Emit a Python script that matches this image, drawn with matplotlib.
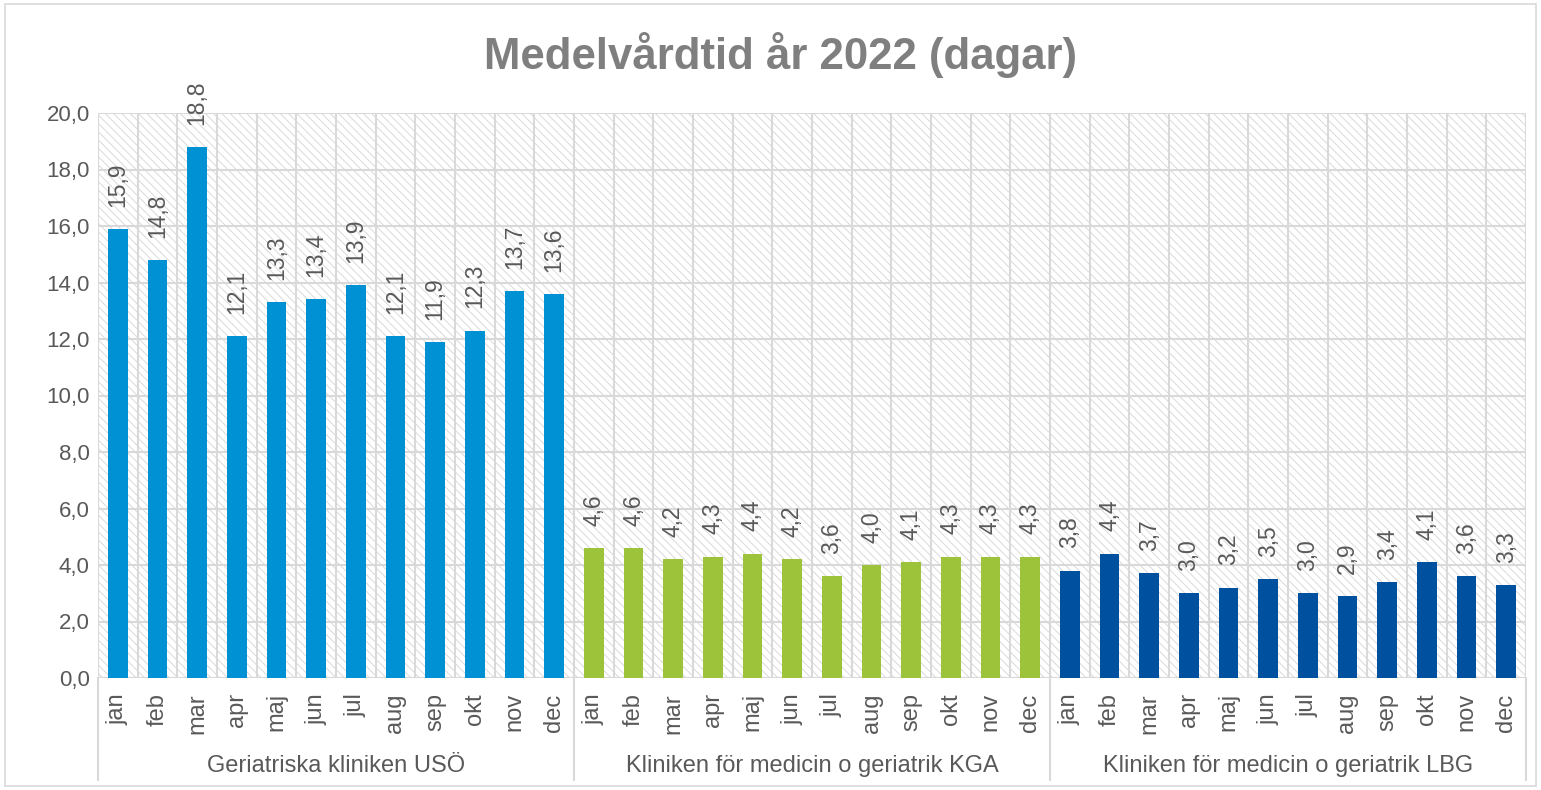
import matplotlib
matplotlib.use("Agg")
import matplotlib.pyplot as plt
import matplotlib.transforms as mtransforms
from matplotlib.patches import Rectangle
from matplotlib.lines import Line2D
import numpy as np

plt.rcParams['font.family'] = ['Liberation Sans', 'DejaVu Sans']
plt.rcParams['hatch.linewidth'] = 0.6
plt.rcParams['hatch.color'] = '#d4d4d4'

months = ["jan", "feb", "mar", "apr", "maj", "jun", "jul", "aug", "sep", "okt", "nov", "dec"]
groups = ["Geriatriska kliniken USÖ", "Kliniken för medicin o geriatrik KGA", "Kliniken för medicin o geriatrik LBG"]
uso = [15.9, 14.8, 18.8, 12.1, 13.3, 13.4, 13.9, 12.1, 11.9, 12.3, 13.7, 13.6]
kga = [4.6, 4.6, 4.2, 4.3, 4.4, 4.2, 3.6, 4.0, 4.1, 4.3, 4.3, 4.3]
lbg = [3.8, 4.4, 3.7, 3.0, 3.2, 3.5, 3.0, 2.9, 3.4, 4.1, 3.6, 3.3]
colors = ["#0091d5", "#9dc33b", "#0050a0"]
yticks = [0, 2, 4, 6, 8, 10, 12, 14, 16, 18, 20]

txt = "#595959"
grid = "#d9d9d9"

fig = plt.figure(figsize=(15.41, 7.90), dpi=100)
ax = fig.add_axes([98/1541, 1-678/790, (1526-98)/1541, (678-113)/790])

# hatched background
ax.add_patch(Rectangle((0, 0), 1, 1, transform=ax.transAxes, facecolor="white",
                       edgecolor="#d4d4d4", hatch="\\\\\\\\", linewidth=0, zorder=0))

n = len(months)
for g, vals in enumerate([uso, kga, lbg]):
    x = np.arange(n) + g * n
    ax.bar(x, vals, width=0.5, color=colors[g], zorder=3)
    for xi, v in zip(x, vals):
        ax.annotate(f"{v:.1f}".replace(".", ","), (xi, v), xytext=(0, 16),
                    textcoords="offset points", rotation=90, ha="center", va="bottom",
                    fontsize=16.5, color=txt, zorder=4)

ax.set_xlim(-0.5, 3 * n - 0.5)
ax.set_ylim(0, 20)
ax.set_yticks(yticks)
ax.set_yticklabels([f"{t:.1f}".replace(".", ",") for t in yticks], fontsize=16, color=txt)
ax.set_axisbelow(True)
ax.grid(axis="y", color=grid, linewidth=1.5, zorder=1)
for b in np.arange(3 * n + 1) - 0.5:
    ax.axvline(b, color=grid, linewidth=1.5, zorder=1)
for s in ax.spines.values():
    s.set_visible(False)
ax.axhline(0, color=grid, linewidth=1.5, zorder=2)
ax.tick_params(axis="y", length=0, pad=6)
ax.tick_params(axis="x", length=0, pad=11)
ax.set_xticks(np.arange(3 * n))
ax.set_xticklabels(months * 3, rotation=90, fontsize=17, color=txt)

tr = mtransforms.blended_transform_factory(ax.transData, fig.transFigure)
for g, name in enumerate(groups):
    ax.text(g * n + n / 2 - 0.5, 1 - 766/790, name, transform=tr, ha="center",
            va="center", fontsize=17, color=txt)
for g in range(4):
    xb = g * n - 0.5
    fig.add_artist(Line2D([xb, xb], [1 - 678/790, 1 - 780/790], transform=tr,
                          color=grid, linewidth=1.5))

fig.text(780/1541, 1 - 55/790, "Medelvårdtid år 2022 (dagar)", ha="center", va="center",
         fontsize=31.5, fontweight="bold", color="#7f7f7f")

fig.add_artist(Rectangle((5/1541, 4/790), 1531/1541, 782/790, transform=fig.transFigure,
                         fill=False, edgecolor="#d9d9d9", linewidth=1.2))

fig.savefig("out.png", dpi=100)
